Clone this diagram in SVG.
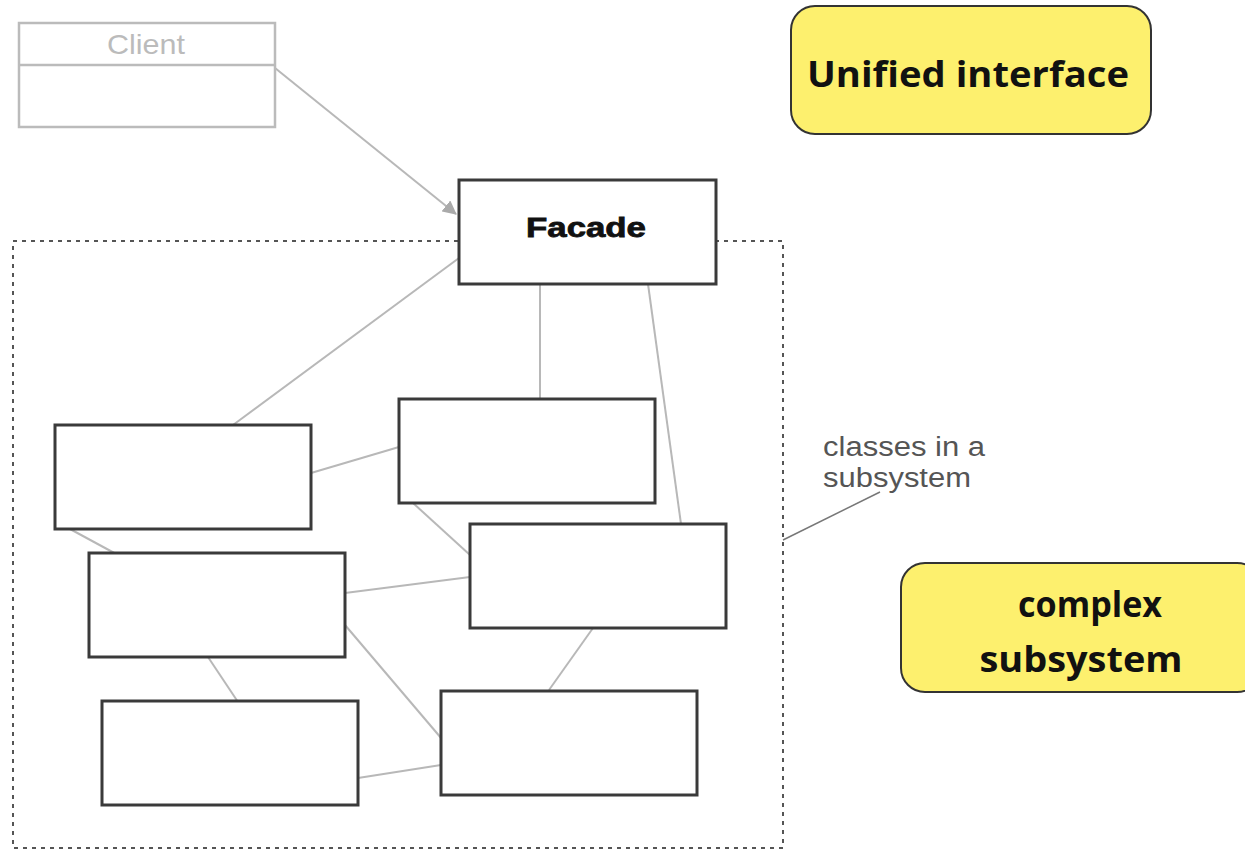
<svg xmlns="http://www.w3.org/2000/svg" width="1245" height="852" viewBox="0 0 1245 852">
<style>
.cls{fill:#fff;stroke:#3a3a3a;stroke-width:3}
.conn{stroke:#b8b8b8;stroke-width:2;fill:none}
.note{fill:#fdf06e;stroke:#333;stroke-width:2}
.notetxt{font-family:"Open Sans","DejaVu Sans",sans-serif;font-weight:bold;font-size:36px;fill:#111;text-anchor:middle}
.ann{font-family:"Liberation Sans",Arial,sans-serif;font-size:27px;fill:#555}
</style>
<defs>
<marker id="arr" viewBox="0 0 14 14" refX="13" refY="7" markerWidth="14" markerHeight="14" markerUnits="userSpaceOnUse" orient="auto">
<path d="M0,0 L14,7 L0,14 Z" fill="#aaa"/>
</marker>
</defs>
<rect id="subsystem-boundary" x="13" y="241" width="770" height="607" fill="none" stroke="#555" stroke-width="2" stroke-dasharray="4 5"/>
<g id="connectors">
<line class="conn" x1="275" y1="68" x2="456" y2="214" marker-end="url(#arr)"/>
<line class="conn" x1="459" y1="258" x2="233" y2="425"/>
<line class="conn" x1="540" y1="284" x2="540" y2="399"/>
<line class="conn" x1="648" y1="284" x2="681" y2="524"/>
<line class="conn" x1="311" y1="473" x2="399" y2="447"/>
<line class="conn" x1="70" y1="529" x2="118" y2="555"/>
<line class="conn" x1="413" y1="503" x2="470" y2="555"/>
<line class="conn" x1="345" y1="593" x2="470" y2="577"/>
<line class="conn" x1="345" y1="625" x2="447" y2="745"/>
<line class="conn" x1="593" y1="628" x2="549" y2="690"/>
<line class="conn" x1="208" y1="657" x2="240" y2="705"/>
<line class="conn" x1="358" y1="778" x2="441" y2="765"/>
<line x1="880" y1="492" x2="783" y2="540" stroke="#777" stroke-width="1.5"/>
</g>
<g id="client">
<rect x="19" y="23" width="256" height="104" fill="#fff" stroke="#bbb" stroke-width="2.5"/>
<line x1="19" y1="65" x2="275" y2="65" stroke="#bbb" stroke-width="2.5"/>
<text x="146" y="54" font-family="Liberation Sans,Arial,sans-serif" font-size="28" fill="#bbb" text-anchor="middle" textLength="78" lengthAdjust="spacingAndGlyphs">Client</text>
</g>
<g id="facade">
<rect class="cls" x="459" y="180" width="257" height="104"/>
<text x="586" y="237" font-family="Liberation Sans,Arial,sans-serif" font-weight="bold" font-size="27" fill="#111" stroke="#111" stroke-width="0.8" text-anchor="middle" textLength="120" lengthAdjust="spacingAndGlyphs">Facade</text>
</g>
<g id="class1"><rect class="cls" x="55" y="425" width="256" height="104"/></g>
<g id="class2"><rect class="cls" x="399" y="399" width="256" height="104"/></g>
<g id="class3"><rect class="cls" x="470" y="524" width="256" height="104"/></g>
<g id="class4"><rect class="cls" x="89" y="553" width="256" height="104"/></g>
<g id="class5"><rect class="cls" x="441" y="691" width="256" height="104"/></g>
<g id="class6"><rect class="cls" x="102" y="701" width="256" height="104"/></g>
<g id="annotation">
<text class="ann" x="823" y="456" textLength="162" lengthAdjust="spacingAndGlyphs">classes in a</text>
<text class="ann" x="823" y="487" textLength="148" lengthAdjust="spacingAndGlyphs">subsystem</text>
</g>
<g id="note-unified">
<rect class="note" x="791" y="6" width="360" height="128" rx="24"/>
<text class="notetxt" x="968" y="87" textLength="322" lengthAdjust="spacingAndGlyphs">Unified interface</text>
</g>
<g id="note-complex">
<rect class="note" x="901" y="563" width="360" height="129" rx="24"/>
<text class="notetxt" x="1090" y="617" textLength="144" lengthAdjust="spacingAndGlyphs">complex</text>
<text class="notetxt" x="1081" y="672" textLength="203" lengthAdjust="spacingAndGlyphs">subsystem</text>
</g>
</svg>
